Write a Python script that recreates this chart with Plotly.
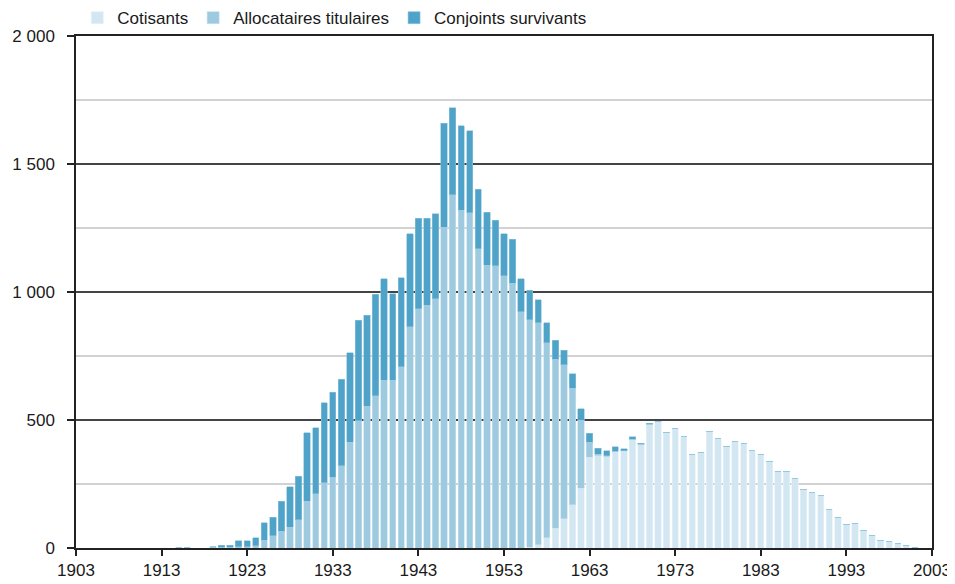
import plotly.graph_objects as go

# birth years 1914..2001
years = list(range(1914, 2002))

# Cotisants (lightest, bottom of stack)
cotisants = [
    0, 0, 0, 0, 0, 0, 0, 0, 0, 0,            # 1914-1923
    0, 0, 0, 0, 0, 0, 0, 0, 0, 0,            # 1924-1933
    0, 0, 0, 0, 0, 0, 0, 0, 0, 0,            # 1934-1943
    0, 0, 0, 0, 0, 0, 0, 0, 0, 0,            # 1944-1953
    0, 0, 3, 12, 40, 78, 115, 168, 233, 354,  # 1954-1963
    361, 357, 375, 378, 422, 404, 484, 495, 452, 468,  # 1964-1973
    434, 367, 374, 454, 427, 397, 417, 410, 379, 367,  # 1974-1983
    336, 299, 297, 272, 230, 215, 204, 151, 120, 90,   # 1984-1993
    96, 69, 49, 29, 26, 16, 8, 2,                      # 1994-2001
]

# Allocataires titulaires (middle)
allocataires = [
    0, 3, 3, 0, 0, 4, 2, 2, 4, 5,                      # 1914-1923
    9, 31, 48, 65, 81, 111, 182, 212, 254, 276,        # 1924-1933
    322, 414, 497, 553, 594, 655, 656, 708, 865, 934,  # 1934-1943
    948, 973, 1253, 1379, 1320, 1310, 1168, 1105, 1103, 1063,  # 1944-1953
    1035, 922, 888, 868, 762, 660, 600, 457, 267, 60,  # 1954-1963
    6, 3, 2, 2, 3, 2, 0, 0, 0, 0,                      # 1964-1973
    0, 0, 0, 0, 0, 0, 0, 0, 0, 0,
    0, 0, 0, 0, 0, 0, 0, 0, 0, 0,
    0, 0, 0, 0, 0, 0, 0, 0,
]

# Conjoints survivants (darkest, top)
conjoints = [
    0, 0, 0, 0, 0, 0, 8, 8, 24, 23,                    # 1914-1923
    31, 67, 73, 117, 159, 169, 268, 257, 314, 333,     # 1924-1933
    338, 348, 392, 357, 397, 397, 337, 347, 363, 354,  # 1934-1943
    340, 332, 406, 341, 330, 319, 234, 206, 178, 164,  # 1944-1953
    172, 129, 115, 90, 77, 74, 57, 55, 44, 34,         # 1954-1963
    22, 20, 18, 7, 9, 4, 4, 0, 0, 0,                   # 1964-1973
    0, 0, 0, 0, 0, 0, 0, 0, 0, 0,
    0, 0, 0, 0, 0, 0, 0, 0, 0, 0,
    0, 0, 0, 0, 0, 0, 0, 0,
]

font = "Liberation Sans, Arial, sans-serif"

fig = go.Figure()
fig.add_trace(go.Bar(x=years, y=cotisants, name="Cotisants",
                     marker=dict(color="#d3e7f2", line=dict(color="#e6f1f8", width=0.6))))
fig.add_trace(go.Bar(x=years, y=allocataires, name="Allocataires titulaires",
                     marker=dict(color="#9dcadf", line=dict(color="#c4e0ec", width=0.6))))
fig.add_trace(go.Bar(x=years, y=conjoints, name="Conjoints survivants",
                     marker=dict(color="#4fa3c8", line=dict(color="#8cc4dd", width=0.6))))

# the page body has an 8px margin, so the figure is a bit smaller than the window
fig.update_layout(
    barmode="stack",
    bargap=0.26,
    width=947, height=576,
    margin=dict(l=68, r=23, t=28, b=36, autoexpand=False),
    paper_bgcolor="white",
    plot_bgcolor="white",
    font=dict(family=font, size=17, color="#1a1a1a"),
    separators=", ",
    showlegend=True,
    legend=dict(orientation="h", x=0.0015, xanchor="left", y=1.035, yanchor="middle",
                font=dict(size=17), itemwidth=30, traceorder="normal",
                bgcolor="rgba(0,0,0,0)"),
)

fig.update_xaxes(
    range=[1903, 2003], tick0=1903, dtick=10,
    showgrid=False, zeroline=False, automargin=False,
    showline=True, linecolor="#222", linewidth=1.5, mirror=True,
    ticks="outside", ticklen=6, tickcolor="#222", tickwidth=1.5,
)
fig.update_yaxes(
    range=[0, 2000], tick0=0, dtick=500, tickformat=",d",
    showgrid=True, gridcolor="#444", gridwidth=1.5,
    minor=dict(dtick=250, showgrid=True, gridcolor="#d2d2d2", gridwidth=1.5),
    zeroline=False, automargin=False,
    showline=True, linecolor="#222", linewidth=1.5, mirror=True,
    ticks="outside", ticklen=7, tickcolor="#222", tickwidth=1.5,
    ticklabelstandoff=9,
)

fig.write_html("out.html")
